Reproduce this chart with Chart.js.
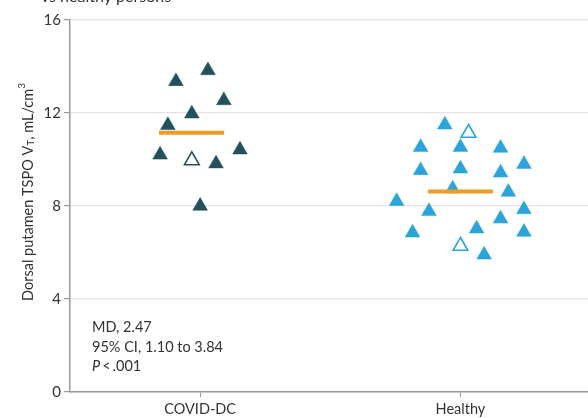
<!DOCTYPE html>
<html>
<head>
<meta charset="utf-8">
<script src="https://cdn.jsdelivr.net/npm/chart.js@4"></script>
<style>
  html, body { margin: 0; padding: 0; background: #fff; }
  #wrap { width: 588px; height: 418px; position: relative; }
</style>
</head>
<body>
<div id="wrap"><canvas id="c"></canvas></div>
<script>
// Groups shown along the x axis
const categories = ['COVID-DC', 'Healthy'];

// Dorsal putamen TSPO VT per participant (mL/cm3)
const covidValues   = [13.36, 13.83, 12.54, 11.97, 11.47, 10.20, 9.96, 9.82, 10.42, 8.00];
const covidJitter   = [-0.093, 0.030, 0.091, -0.032, -0.124, -0.154, -0.032, 0.061, 0.153, 0.000];
const covidOpen     = [0, 0, 0, 0, 0, 0, 1, 0, 0, 0];

const healthyValues = [11.49, 11.14, 10.53, 10.53, 10.49, 9.80, 9.53, 9.60, 9.43, 8.74,
                       8.60, 8.20, 7.77, 7.85, 7.45, 7.02, 6.85, 6.88, 6.28, 5.90];
const healthyJitter = [-0.060, 0.031, -0.153, 0.000, 0.154, 0.244, -0.153, 0.000, 0.154, -0.030,
                       0.184, -0.245, -0.121, 0.244, 0.154, 0.062, -0.184, 0.244, 0.000, 0.091];
const healthyOpen   = [0, 1, 0, 0, 0, 0, 0, 0, 0, 0,
                       0, 0, 0, 0, 0, 0, 0, 0, 1, 0];

// Group summary (horizontal bar) per category
const summaryValues = [11.15, 8.62];

// Y axis ticks
const yTicks = [0, 4, 8, 12, 16];

// Statistics annotation
const statLines = ['MD, 2.47', '95% CI, 1.10 to 3.84', '.001'];

const FONT = 'Lato, "Open Sans", sans-serif';
const TEXT = '#333333';
const DARK = '#23505c';
const LIGHT = '#2aa4d9';
const ORANGE = '#f29a25';

function pointsFor(values, jitter, centre) {
  return values.map((v, i) => ({ x: centre + jitter[i], y: v }));
}

function groupDataset(values, jitter, open, centre, colour) {
  return {
    type: 'scatter',
    data: pointsFor(values, jitter, centre),
    pointStyle: 'triangle',
    pointRadius: 8.5,
    pointHoverRadius: 8.5,
    pointBackgroundColor: open.map(o => o ? '#ffffff' : colour),
    pointBorderColor: colour,
    pointBorderWidth: open.map(o => o ? 1.6 : 0.5),
    clip: false,
    order: 2
  };
}

// horizontal summary bar spans, in category units around each centre
const summarySpan = [[-0.158, 0.092], [-0.125, 0.125]];

function summaryDataset(i) {
  return {
    type: 'line',
    data: [
      { x: i + summarySpan[i][0], y: summaryValues[i] },
      { x: i + summarySpan[i][1], y: summaryValues[i] }
    ],
    borderColor: ORANGE,
    borderWidth: 4,
    pointRadius: 0,
    borderCapStyle: 'butt',
    order: 1
  };
}

const labelsPlugin = {
  id: 'labels',
  afterDraw(chart) {
    const ctx = chart.ctx;
    ctx.save();
    ctx.fillStyle = TEXT;

    // title (mostly outside the top edge)
    ctx.font = '16px ' + FONT;
    ctx.textAlign = 'left';
    ctx.textBaseline = 'alphabetic';
    ctx.fillText('vs healthy persons', 41, 2);

    // y axis title with subscript and superscript
    ctx.save();
    ctx.translate(28, 192);
    ctx.rotate(-Math.PI / 2);
    const parts = [
      { t: 'Dorsal putamen TSPO V', size: 14.5, dy: 0 },
      { t: 'T', size: 10, dy: 3 },
      { t: ', mL/cm', size: 14.5, dy: 0 },
      { t: '3', size: 10, dy: -6 }
    ];
    let total = 0;
    parts.forEach(p => { ctx.font = p.size + 'px ' + FONT; p.w = ctx.measureText(p.t).width; total += p.w; });
    let x = -total / 2;
    ctx.textBaseline = 'middle';
    parts.forEach(p => {
      ctx.font = p.size + 'px ' + FONT;
      ctx.fillText(p.t, x, p.dy);
      x += p.w;
    });
    ctx.restore();

    // statistics block
    ctx.textBaseline = 'middle';
    ctx.font = '14.5px ' + FONT;
    ctx.fillText(statLines[0], 92, 327);
    ctx.fillText(statLines[1], 92, 347);
    ctx.font = 'italic 14.5px ' + FONT;
    ctx.fillText('P', 92, 366);
    let px = 92 + ctx.measureText('P').width + 2;
    ctx.font = '14.5px ' + FONT;
    ctx.fillText('<', px, 366);
    px += ctx.measureText('<').width + 2;
    ctx.fillText(statLines[2], px, 366);

    ctx.restore();
  }
};

new Chart(document.getElementById('c'), {
  type: 'scatter',
  data: {
    datasets: [
      groupDataset(covidValues, covidJitter, covidOpen, 0, DARK),
      groupDataset(healthyValues, healthyJitter, healthyOpen, 1, LIGHT),
      summaryDataset(0),
      summaryDataset(1)
    ]
  },
  options: {
    responsive: true,
    maintainAspectRatio: false,
    animation: false,
    events: [],
    layout: { autoPadding: false, padding: { top: 20, left: 0, right: 0, bottom: 0 } },
    plugins: { legend: { display: false }, tooltip: { enabled: false } },
    scales: {
      x: {
        type: 'linear',
        min: -0.5,
        max: 1.49,
        afterBuildTicks(scale) { scale.ticks = categories.map((c, i) => ({ value: i })); },
        afterFit(scale) {
          scale.height = 26;
          scale.paddingLeft = 0;
          scale.paddingRight = 0;
        },
        ticks: {
          color: TEXT,
          font: { family: FONT, size: 14.5 },
          padding: 4,
          maxRotation: 0,
          callback: v => categories[v]
        },
        grid: { drawOnChartArea: false, drawTicks: true, tickLength: 5, tickColor: '#999999' },
        border: { display: true, color: '#999999', width: 1.5 }
      },
      y: {
        min: 0,
        max: 16,
        afterBuildTicks(scale) { scale.ticks = yTicks.map(v => ({ value: v })); },
        afterFit(scale) { scale.width = 70; },
        ticks: {
          color: TEXT,
          font: { family: FONT, size: 15 },
          padding: 3
        },
        grid: { color: '#e3e3e3', lineWidth: 1.2, drawTicks: true, tickLength: 6, tickColor: '#999999' },
        border: { display: true, color: '#999999', width: 1.5 }
      }
    }
  },
  plugins: [labelsPlugin]
});
</script>
</body>
</html>
